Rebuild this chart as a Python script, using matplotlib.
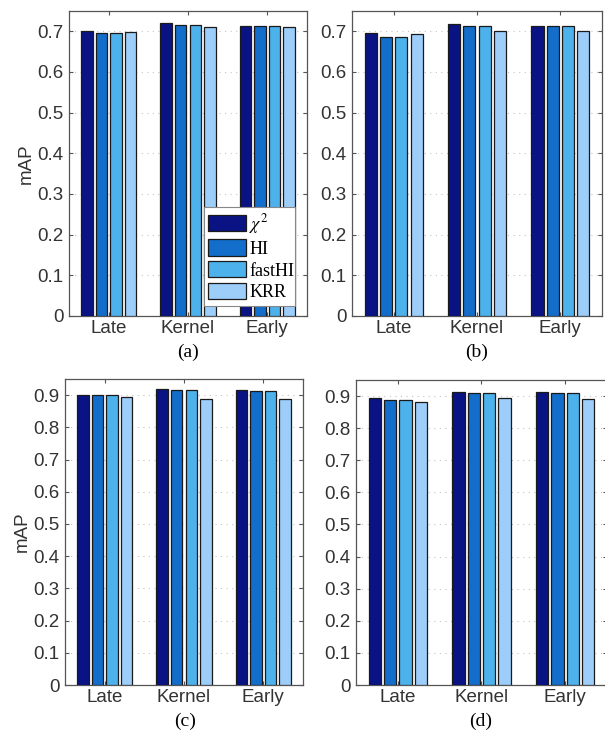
import matplotlib
matplotlib.use("Agg")
import matplotlib.pyplot as plt
import numpy as np

plt.rcParams["mathtext.fontset"] = "stix"

categories = ["Late", "Kernel", "Early"]
methods = [r"$\chi^2$", "HI", "fastHI", "KRR"]
colors = ["#0A1384", "#136DCB", "#4DB1EC", "#9DCDF9"]

vals_a = {"chi2": [0.701, 0.720, 0.714], "HI": [0.696, 0.716, 0.714],
          "fastHI": [0.696, 0.716, 0.714], "KRR": [0.698, 0.711, 0.710]}
vals_b = {"chi2": [0.696, 0.719, 0.712], "HI": [0.685, 0.712, 0.712],
          "fastHI": [0.685, 0.712, 0.712], "KRR": [0.694, 0.702, 0.702]}
vals_c = {"chi2": [0.901, 0.918, 0.917], "HI": [0.900, 0.915, 0.914],
          "fastHI": [0.900, 0.915, 0.914], "KRR": [0.893, 0.889, 0.889]}
vals_d = {"chi2": [0.893, 0.912, 0.912], "HI": [0.889, 0.908, 0.908],
          "fastHI": [0.889, 0.908, 0.908], "KRR": [0.882, 0.893, 0.892]}
captions = ["(a)", "(b)", "(c)", "(d)"]
yticks_top = [np.round(np.arange(0, 0.71, 0.1), 1), np.round(np.arange(0, 0.71, 0.1), 1)]
yticks_bot = [np.round(np.arange(0, 0.91, 0.1), 1), np.round(np.arange(0, 0.91, 0.1), 1)]

W, H = 605, 733
fig = plt.figure(figsize=(W / 100, H / 100), dpi=100)

def px_axes(x0, y0, x1, y1):
    return fig.add_axes([x0 / W, 1 - y1 / H, (x1 - x0) / W, (y1 - y0) / H])

panels = [
    (px_axes(69, 11, 307, 316), vals_a, 0.75, yticks_top[0], True),
    (px_axes(352, 11, 602, 316), vals_b, 0.75, yticks_top[1], False),
    (px_axes(65, 379, 303, 685), vals_c, 0.95, yticks_bot[0], True),
    (px_axes(356, 380, 607, 685), vals_d, 0.95, yticks_bot[1], False),
]

tick_font = "Liberation Sans"
serif_font = "Liberation Serif"
fs = 13.5
x = np.arange(1, len(categories) + 1)
pitch = 0.183
width = 0.145
keys = ["chi2", "HI", "fastHI", "KRR"]

for i, (ax, vals, ymax, yt, ylab) in enumerate(panels):
    handles = []
    for j, k in enumerate(keys):
        off = (j - 1.5) * pitch
        b = ax.bar(x + off, vals[k], width=width, color=colors[j],
                   edgecolor="#1a1a1a", linewidth=0.9, zorder=3, label=methods[j])
        handles.append(b)
    ax.set_xlim(0.5, 3.5)
    ax.set_ylim(0, ymax)
    ax.set_yticks(yt)
    ax.set_yticklabels([("0" if v == 0 else f"{v:.1f}") for v in yt],
                       fontfamily=tick_font, fontsize=fs, color="#333333")
    ax.set_xticks(x)
    ax.set_xticklabels(categories, fontfamily=tick_font, fontsize=fs, color="#333333")
    ax.tick_params(axis="both", direction="in", length=3, width=0.8, color="#555555",
                   top=True, right=True)
    ax.tick_params(axis="x", pad=3)
    ax.tick_params(axis="y", pad=4)
    for s in ax.spines.values():
        s.set_color("#555555")
        s.set_linewidth(0.9)
    ax.yaxis.grid(True, linestyle=(0, (1, 4)), color="#c4c4c4", linewidth=0.8, zorder=0)
    ax.set_axisbelow(True)
    if ylab:
        ax.set_ylabel("mAP", fontfamily=tick_font, fontsize=fs, color="#333333", labelpad=2)
    if i == 0:
        leg = ax.legend(handles=handles, labels=methods, loc="lower left",
                        bbox_to_anchor=(0.567, 0.033, 0.383, 0.29), mode="expand",
                        prop={"family": serif_font, "size": 13},
                        handlelength=2.1, handleheight=1.0, handletextpad=0.15,
                        labelspacing=0.2, borderpad=0.25, borderaxespad=0,
                        fancybox=False, framealpha=1, edgecolor="#888888")
        leg.get_frame().set_linewidth(0.8)
        leg.set_zorder(5)

cap_fs = 14
fig.text(188 / W, 1 - 352 / H, captions[0], ha="center", va="center", fontfamily=serif_font, fontsize=cap_fs)
fig.text(477 / W, 1 - 352 / H, captions[1], ha="center", va="center", fontfamily=serif_font, fontsize=cap_fs)
fig.text(185 / W, 1 - 721 / H, captions[2], ha="center", va="center", fontfamily=serif_font, fontsize=cap_fs)
fig.text(481 / W, 1 - 721 / H, captions[3], ha="center", va="center", fontfamily=serif_font, fontsize=cap_fs)

fig.savefig("out.png", dpi=100)
